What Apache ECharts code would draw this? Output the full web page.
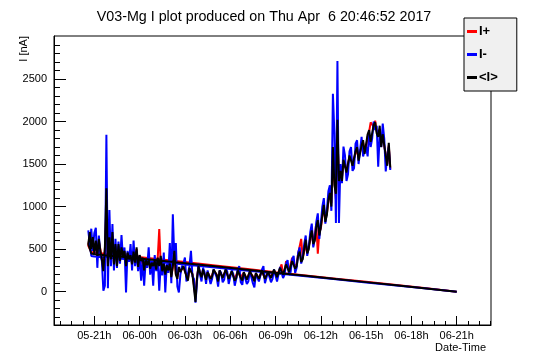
<!DOCTYPE html>
<html><head><meta charset="utf-8">
<script src="https://cdn.jsdelivr.net/npm/echarts@6/dist/echarts.min.js"></script>
<style>html,body{margin:0;padding:0;background:#fff}#c{width:546px;height:362px}</style>
</head><body><div id="c"></div>
<script>
// hours relative to 05-21h
const hours = [
-0.4,-0.3,-0.2,-0.1,0,0.1,0.2,0.3,0.4,0.5,
0.6,0.7,0.8,0.9,1,1.1,1.2,1.3,1.4,1.5,
1.6,1.7,1.8,1.9,2,2.1,2.2,2.3,2.4,2.5,
2.6,2.7,2.8,2.9,3,3.1,3.2,3.3,3.4,3.5,
3.6,3.7,3.8,3.9,4,4.1,4.2,4.3,4.4,4.5,
4.6,4.7,4.8,4.9,5,5.1,5.2,5.3,5.4,5.5,
5.6,5.7,5.8,5.9,6,6.1,6.2,6.3,6.4,6.5,
6.6,6.7,6.8,6.9,7,7.1,7.2,7.3,7.4,7.5,
7.6,7.7,7.8,7.9,8,8.1,8.2,8.3,8.4,8.5,
8.6,8.7,8.8,8.9,9,9.1,9.2,9.3,9.4,9.5,
9.6,9.7,9.8,9.9,10,10.1,10.2,10.3,10.4,10.5,
10.6,10.7,10.8,10.9,11,11.1,11.2,11.3,11.4,11.5,
11.6,11.7,11.8,11.9,12,12.1,12.2,12.3,12.4,12.5,
12.6,12.7,12.8,12.9,13,13.1,13.2,13.3,13.4,13.5,
13.6,13.7,13.8,13.9,14,14.1,14.2,14.3,14.4,14.5,
14.6,14.7,14.8,14.9,15,15.1,15.2,15.3,15.4,15.5,
15.6,15.7,15.8,15.9,16,16.1,16.2,16.3,16.4,16.5,
16.6,16.7,16.8,16.9,17,17.1,17.2,17.3,17.4,17.5,
17.6,17.7,17.8,17.9,18,18.1,18.2,18.3,18.4,18.5,
18.6,18.7,18.8,18.9,19,19.1,19.2,19.3,19.4,19.5,
19.6];
const iPlus = [
540,660,520,610,470,570,440,590,500,400,
270,500,980,330,600,400,660,340,540,320,
540,380,500,430,470,320,450,390,420,340,
460,350,500,310,420,370,390,270,370,320,
360,280,330,310,350,270,400,735,310,250,
320,210,300,260,320,190,290,430,210,170,
280,240,220,290,310,190,150,270,250,210,
190,-60,170,290,220,180,250,240,160,230,
230,160,190,250,260,200,140,240,230,170,
180,250,240,160,150,230,220,150,170,240,
250,170,150,220,210,150,160,230,230,180,
140,210,210,160,170,240,240,160,150,220,
220,170,180,250,250,180,170,270,320,210,
240,360,310,250,270,400,350,280,330,450,
440,620,400,470,560,460,530,600,760,540,
560,800,445,700,740,880,980,860,920,1050,
1200,1040,1550,1300,1090,1800,1350,1380,1350,1500,
1500,1440,1450,1580,1580,1520,1520,1620,1680,1580,
1600,1700,1750,1660,1700,1820,1880,1990,2010,1940,
2010,1880,1860,1900,1750,1800,1800,1620,1500,1720,
1440];
const iMinus = [
720,560,740,480,690,750,280,660,430,360,
10,70,1845,40,960,300,795,250,620,280,
590,330,665,380,520,-10,480,350,560,250,
600,300,480,240,420,130,380,70,360,280,
520,200,360,70,430,240,380,10,320,190,
460,-10,330,220,570,100,910,380,570,60,
-10,200,300,330,400,120,100,300,480,180,
150,-130,120,330,200,120,280,230,90,250,
230,90,150,260,280,170,60,250,220,110,
140,270,240,90,100,250,210,70,150,260,
300,110,80,220,200,90,120,240,230,100,
50,210,220,120,140,260,300,100,120,230,
220,110,150,260,250,120,110,290,310,160,
200,330,370,190,230,380,420,220,280,460,
520,330,400,560,660,420,520,700,800,520,
620,820,920,620,800,1000,1100,800,950,1180,
1250,950,2325,1860,806,2710,806,1500,1275,1705,
1600,1300,1380,1650,1700,1420,1450,1740,1780,1500,
1500,1820,1590,1650,1700,1590,1880,1700,1800,2000,
1900,1950,1470,1850,1700,1975,1800,1413,1610,1700,
1430];
const iMean = [
560,700,500,640,450,600,420,620,480,380,
240,520,1215,300,640,380,700,320,560,300,
560,360,520,420,480,300,460,380,430,320,
470,340,520,290,430,360,400,250,380,310,
370,270,340,300,360,260,400,300,420,240,
330,200,310,250,330,170,300,480,200,150,
290,230,210,300,320,180,130,280,260,200,
180,-120,150,300,220,170,260,250,140,230,
240,150,180,260,270,200,120,250,230,160,
170,260,250,150,140,240,220,130,160,250,
260,160,130,230,210,140,150,240,240,170,
120,220,220,150,160,250,250,150,140,230,
230,160,170,260,260,170,150,280,300,200,
220,320,330,230,250,360,380,270,300,420,
470,350,380,500,610,450,500,640,720,560,
600,760,840,660,760,900,1020,820,900,1080,
1160,1000,1700,1250,1150,2020,1300,1420,1300,1550,
1560,1400,1400,1600,1620,1480,1480,1650,1700,1540,
1560,1720,1780,1620,1640,1850,1900,1760,1780,1960,
1990,1860,1820,1950,1700,1850,1850,1600,1480,1750,
1460];
// straight trailing segment drawn before the noisy data
const lineHours = [24,22,20,18,16,14,12,10,8,6,4,2,0,-0.2];
const linePlus = [0,40,78,115,152,190,228,268,308,348,388,425,458,465];
const lineMinus = [0,36,72,108,145,180,215,250,285,318,352,385,412,420];
const lineMean = [0,38,75,112,148,186,222,260,298,335,372,408,440,448];
const xTickHours = [0,3,6,9,12,15,18,21,24];
const xTickLabels = ['05-21h','06-00h','06-03h','06-06h','06-09h','06-12h','06-15h','06-18h','06-21h'];
const xMinorHours = [-2.25,-1.5,-0.75,0.75,1.5,2.25,3.75,4.5,5.25,6.75,7.5,8.25,9.75,10.5,11.25,12.75,13.5,14.25,15.75,16.5,17.25,18.75,19.5,20.25,21.75,22.5,23.25,24.75,25.5,26.25];
const yTicks = [0,500,1000,1500,2000,2500];
const yMinor = [-300,-200,-100,100,200,300,400,600,700,800,900,1100,1200,1300,1400,1600,1700,1800,1900,2100,2200,2300,2400,2600,2700,2800,2900];

const X_MIN = -2.67, X_MAX = 26.27, Y_MIN = -392, Y_MAX = 3005;
const FONT = 'Liberation Sans, Arial, Helvetica, sans-serif';

function build(lh, lv, vals) {
  const d = lh.map((h, i) => [h, lv[i]]);
  return d.concat(hours.map((h, i) => [h, vals[i]]));
}

const chart = echarts.init(document.getElementById('c'));
chart.setOption({
  animation: false,
  backgroundColor: '#fff',
  title: {
    text: 'V03-Mg I plot produced on Thu Apr  6 20:46:52 2017',
    left: 259, top: 5, textAlign: 'center',
    textStyle: {fontFamily: FONT, fontSize: 14.3, fontWeight: 'normal', color: '#000'}
  },
  legend: {
    orient: 'vertical', left: 464, top: 18,
    padding: [7, 19, 7, 3], itemGap: 10,
    itemWidth: 10, itemHeight: 3, icon: 'rect',
    backgroundColor: '#f0f0f0', borderColor: '#000', borderWidth: 1, borderRadius: 0,
    textStyle: {fontFamily: FONT, fontSize: 13, fontWeight: 'bold', color: '#000', padding: [0,0,0,-3]},
    data: ['I+', 'I-', '<I>']
  },
  grid: {left: 54, right: 55, top: 36, bottom: 37, show: true, borderColor: '#000', borderWidth: 1, backgroundColor: 'transparent'},
  xAxis: [{
    type: 'value', min: X_MIN, max: X_MAX, position: 'bottom',
    axisLine: {show: true, onZero: false, lineStyle: {color: '#000', width: 1}},
    axisTick: {show: true, inside: true, length: 9, customValues: xTickHours, lineStyle: {color: '#000'}},
    axisLabel: {show: true, customValues: xTickHours, margin: 5, fontFamily: FONT, fontSize: 11, color: '#000',
      formatter: v => xTickLabels[xTickHours.indexOf(v)] || ''},
    splitLine: {show: false}
  }, {
    type: 'value', min: X_MIN, max: X_MAX, position: 'bottom',
    axisLine: {show: false, onZero: false},
    axisTick: {show: true, inside: true, length: 4, customValues: xMinorHours, lineStyle: {color: '#000'}},
    axisLabel: {show: false}, splitLine: {show: false}
  }],
  yAxis: [{
    type: 'value', min: Y_MIN, max: Y_MAX, position: 'left',
    axisLine: {show: true, onZero: false, lineStyle: {color: '#000', width: 1}},
    axisTick: {show: true, inside: true, length: 12, customValues: yTicks, lineStyle: {color: '#000'}},
    axisLabel: {show: true, customValues: yTicks, margin: 7, fontFamily: FONT, fontSize: 11, color: '#000',
      formatter: v => String(v)},
    splitLine: {show: false}
  }, {
    type: 'value', min: Y_MIN, max: Y_MAX, position: 'left',
    axisLine: {show: false, onZero: false},
    axisTick: {show: true, inside: true, length: 6, customValues: yMinor, lineStyle: {color: '#000'}},
    axisLabel: {show: false}, splitLine: {show: false}
  }],
  graphic: [
    {type: 'text', x: 24, y: 36, rotation: Math.PI / 2,
      style: {text: 'I [nA]', fontFamily: FONT, fontSize: 11, fill: '#000', align: 'right', verticalAlign: 'middle'}},
    {type: 'text', x: 486, y: 348,
      style: {text: 'Date-Time', fontFamily: FONT, fontSize: 11, fill: '#000', align: 'right', verticalAlign: 'middle'}}
  ],
  series: [
    {name: 'I+', type: 'line', xAxisIndex: 0, yAxisIndex: 0, showSymbol: false, symbol: 'none',
      color: '#ff0000', lineStyle: {width: 2, color: '#ff0000'}, data: build(lineHours, linePlus, iPlus)},
    {name: 'I-', type: 'line', xAxisIndex: 0, yAxisIndex: 0, showSymbol: false, symbol: 'none',
      color: '#0000ff', lineStyle: {width: 2, color: '#0000ff'}, data: build(lineHours, lineMinus, iMinus)},
    {name: '<I>', type: 'line', xAxisIndex: 0, yAxisIndex: 0, showSymbol: false, symbol: 'none',
      color: '#000000', lineStyle: {width: 2, color: '#000000'}, data: build(lineHours, lineMean, iMean)}
  ]
});
</script>
</body></html>
